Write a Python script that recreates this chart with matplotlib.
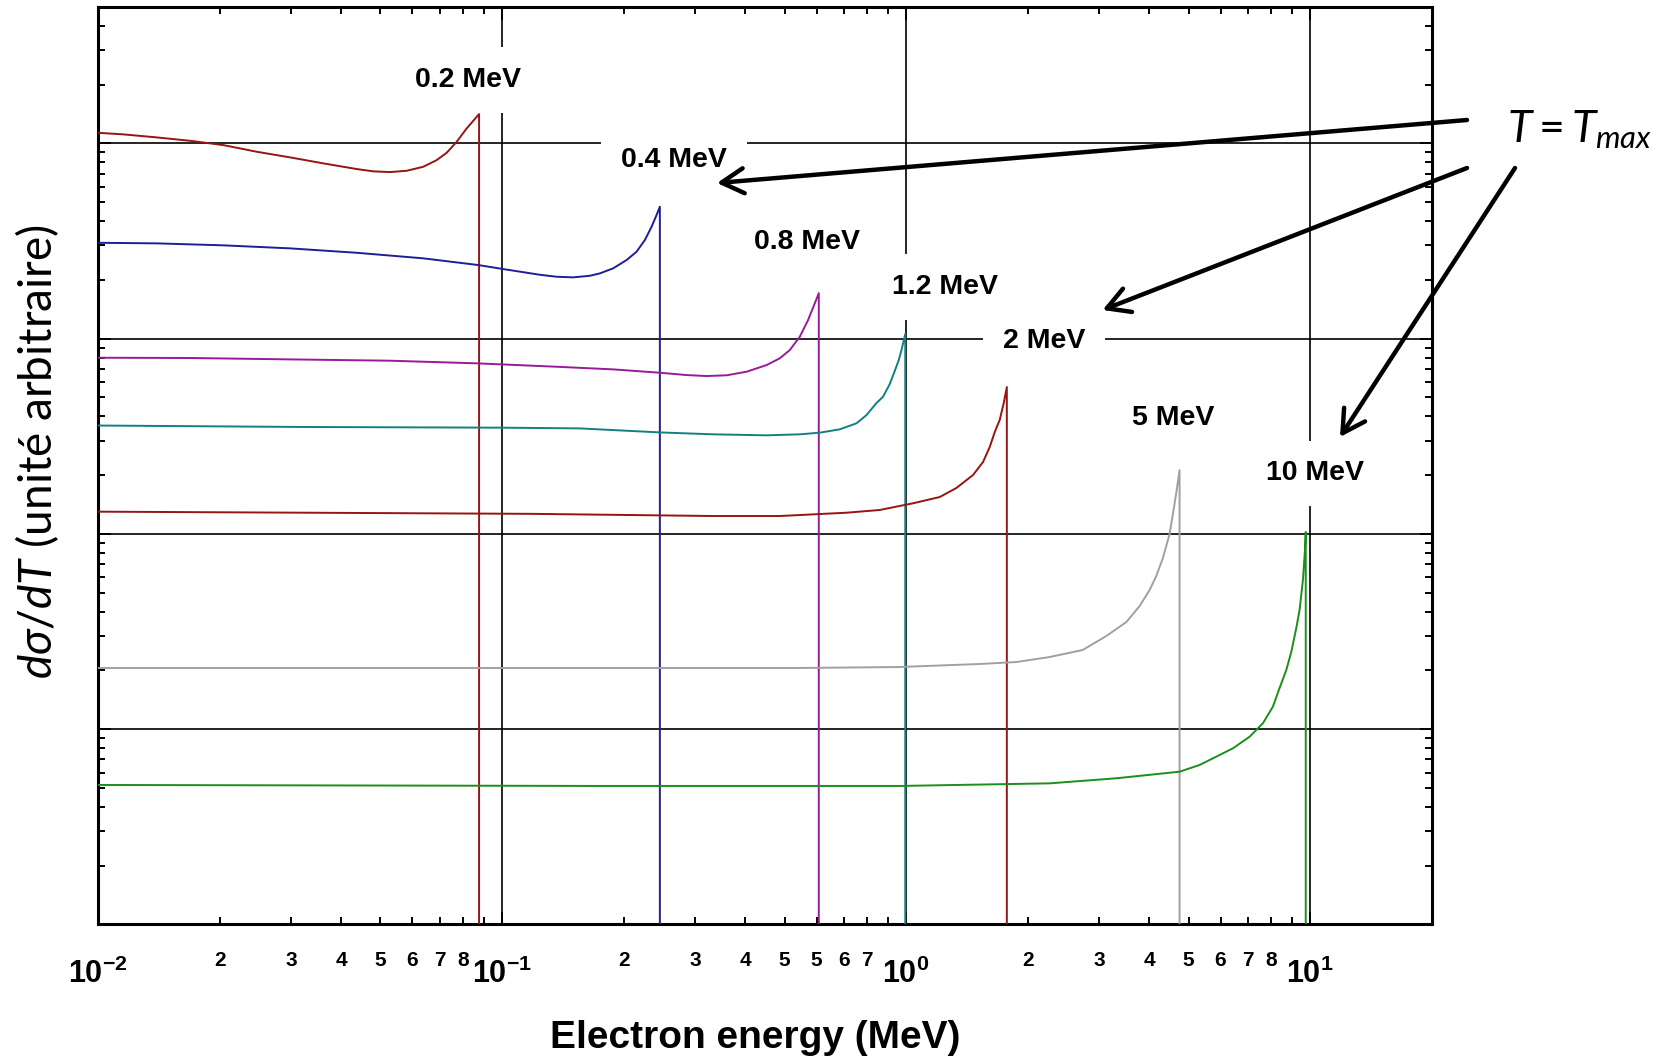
import matplotlib
matplotlib.use('Agg')
import matplotlib.pyplot as plt
from matplotlib.ticker import NullFormatter, FixedLocator

plt.rcParams['mathtext.fontset'] = 'custom'
plt.rcParams['mathtext.rm'] = 'Lato'
plt.rcParams['mathtext.it'] = 'Lato:italic'
plt.rcParams['mathtext.bf'] = 'Liberation Sans:bold'
plt.rcParams['font.family'] = ['Liberation Sans', 'DejaVu Sans']

# ---------------- data ----------------
# electron kinetic energy T (MeV) and d(sigma)/dT (arbitrary units)
e02_x = [0.01, 0.01155, 0.01397, 0.0169, 0.02042, 0.0247, 0.02985, 0.03609, 0.04365, 0.04799,
         0.05278, 0.05803, 0.0638, 0.06887, 0.07291, 0.07718, 0.08171, 0.0877, 0.0877]
e02_y = [1133, 1112, 1073, 1031, 980, 906, 848, 790, 739, 719,
         713, 724, 759, 821, 895, 1019, 1193, 1413, 0.01]

e04_x = [0.01, 0.01397, 0.02042, 0.02985, 0.04365, 0.0638, 0.08728, 0.1006, 0.124, 0.1364,
         0.1499, 0.1649, 0.1746, 0.1883, 0.2032, 0.2151, 0.2256, 0.2344, 0.2411, 0.2457, 0.2457]
e04_y = [309.7, 307.6, 300.5, 290.0, 275.3, 257.8, 238.2, 227.2, 212.4, 207.5,
         206.0, 209.9, 215.9, 229.1, 252.6, 278.6, 319.8, 374.1, 429.5, 474, 0.01]

e08_x = [0.01, 0.0169, 0.02985, 0.05278, 0.08728, 0.1364, 0.1883, 0.2457, 0.286, 0.3206,
         0.3593, 0.4027, 0.4512, 0.4867, 0.5152, 0.5455, 0.5718, 0.5941, 0.6078, 0.6078]
e08_y = [79.85, 79.6, 78.3, 77.1, 74.7, 71.8, 69.6, 66.9, 65.1, 64.35,
         64.9, 67.7, 73.2, 79.3, 87.4, 102.3, 124.5, 151.6, 171, 0.01]

e12_x = [0.01, 0.0316, 0.1005, 0.1558, 0.2457, 0.3329, 0.4512, 0.5455, 0.6111, 0.6851,
         0.7534, 0.7977, 0.8443, 0.8766, 0.9109, 0.9371, 0.9588, 0.9737, 0.995, 0.995]
e12_y = [35.9, 35.3, 35.0, 34.7, 33.1, 32.36, 31.98, 32.36, 33.0, 34.32,
         36.84, 40.6, 46.8, 50.4, 58.6, 68.3, 77.7, 87.4, 105.6, 0.01]

e2_x = [0.01, 0.1185, 0.3329, 0.4867, 0.7117, 0.8603, 1.040, 1.211, 1.331, 1.464,
        1.550, 1.610, 1.657, 1.704, 1.744, 1.775, 1.775]
e2_y = [13.0, 12.67, 12.35, 12.35, 12.84, 13.26, 14.35, 15.45, 17.18, 20.03,
        23.35, 27.86, 33.25, 38.3, 46.8, 56.5, 0.01]

e5_x = [0.01, 0.0988, 0.5455, 0.9643, 1.521, 1.875, 2.266, 2.735, 3.130, 3.508,
        3.784, 4.005, 4.160, 4.320, 4.488, 4.573, 4.662, 4.75, 4.75]
e5_y = [2.058, 2.058, 2.058, 2.082, 2.157, 2.208, 2.342, 2.544, 3.001, 3.538,
        4.274, 5.161, 6.087, 7.526, 9.99, 12.64, 16.2, 21.2, 0.01]

e10_x = [0.01, 0.1746, 0.9643, 2.266, 3.314, 4.753, 5.326, 5.857, 6.439, 7.083,
         7.638, 8.085, 8.400, 8.727, 8.979, 9.239, 9.414, 9.594, 9.70, 9.75, 9.75]
e10_y = [0.518, 0.512, 0.512, 0.528, 0.5605, 0.6059, 0.6558, 0.7233, 0.7983, 0.9154,
         1.072, 1.304, 1.625, 2.010, 2.485, 3.298, 4.076, 5.807, 8.08, 10.23, 0.01]

series_x = [e02_x, e04_x, e08_x, e12_x, e2_x, e5_x, e10_x]
series_y = [e02_y, e04_y, e08_y, e12_y, e2_y, e5_y, e10_y]
colors = ['#961414', '#1e1e96', '#991a99', '#128080', '#961414', '#a0a0a0', '#1a8f1a']

labels = ['0.2 MeV', '0.4 MeV', '0.8 MeV', '1.2 MeV', '2 MeV', '5 MeV', '10 MeV']
label_x = [0.0825, 0.266, 0.569, 1.249, 2.196, 4.58, 10.28]
label_y = [2109, 821, 314, 183, 97.8, 39.2, 20.4]

x_major = [0.01, 0.1, 1, 10]
x_major_labels = [r'$\mathbf{10^{-2}}$', r'$\mathbf{10^{-1}}$', r'$\mathbf{10^{0}}$', r'$\mathbf{10^{1}}$']
x_minor = [m * d for d in (0.01, 0.1, 1) for m in range(2, 10)]
x_minor_labels = ['2', '3', '4', '5', '6', '7', '8', '',
                  '2', '3', '4', '5', '5', '6', '7', '',
                  '2', '3', '4', '5', '6', '7', '8', '']
y_major = [0.1, 1, 10, 100, 1000]
y_minor = [m * d for d in (0.1, 1, 10, 100, 1000) for m in range(2, 10) if m * d < 5000]

# ---------------- figure ----------------
fig = plt.figure(figsize=(16.68, 10.61), dpi=100)
ax = fig.add_axes([0.0588, 0.1287, 0.7996, 0.8648])

for xs, ys, c in zip(series_x, series_y, colors):
    ax.plot(xs, ys, color=c, lw=1.4, zorder=3)

ax.set_xscale('log')
ax.set_yscale('log')
ax.set_xlim(0.01, 20)
ax.set_ylim(0.1, 5000)

ax.set_xticks(x_major, labels=x_major_labels)
ax.set_xticks(x_minor, labels=x_minor_labels, minor=True,
              fontweight='bold', fontsize=15)
ax.yaxis.set_major_locator(FixedLocator(y_major))
ax.yaxis.set_minor_locator(FixedLocator(y_minor))
ax.yaxis.set_major_formatter(NullFormatter())
ax.yaxis.set_minor_formatter(NullFormatter())

ax.tick_params(which='both', direction='in', top=True, right=True, width=1.4, colors='black')
ax.tick_params(which='major', length=9)
ax.tick_params(which='minor', length=5)
ax.tick_params(axis='x', which='major', labelsize=22, pad=25)
ax.tick_params(axis='x', which='minor', pad=19)

ax.grid(True, which='major', color='black', lw=1.2)
ax.set_axisbelow(True)
for sp in ax.spines.values():
    sp.set_linewidth(2.2)

for s, lx, ly in zip(labels, label_x, label_y):
    ax.text(lx, ly, s, ha='center', va='center', fontsize=20.5, fontweight='bold',
            bbox=dict(boxstyle='square,pad=0.7', fc='white', ec='none'), zorder=4)

fig.text(755.5 / 1668, 13 / 1061, 'Electron energy (MeV)', ha='center', va='baseline',
         fontsize=28, fontweight='bold')
fig.text(37 / 1668, 609 / 1061, r'$d\sigma/dT$ (unité arbitraire)', rotation=90,
         ha='center', va='center', fontsize=33, family=['Lato', 'DejaVu Sans'])
fig.text(1507 / 1668, (1061 - 141.7) / 1061, r'$T = T_{max}$', ha='left', va='baseline',
         fontsize=32)

arrow_kw = dict(arrowstyle='->,head_length=0.8,head_width=0.45', lw=3.2, color='black',
                shrinkA=0, shrinkB=0, mutation_scale=20)
for (x0, y0), (x1, y1) in [((1467, 120), (717, 183)),
                           ((1467, 168), (1102.6, 310)),
                           ((1515, 168), (1340, 437))]:
    ax.annotate('', xy=(x1, 1061 - y1), xycoords='figure pixels',
                xytext=(x0, 1061 - y0), textcoords='figure pixels',
                arrowprops=arrow_kw, annotation_clip=False, zorder=6)

fig.savefig('out.png', dpi=100)
